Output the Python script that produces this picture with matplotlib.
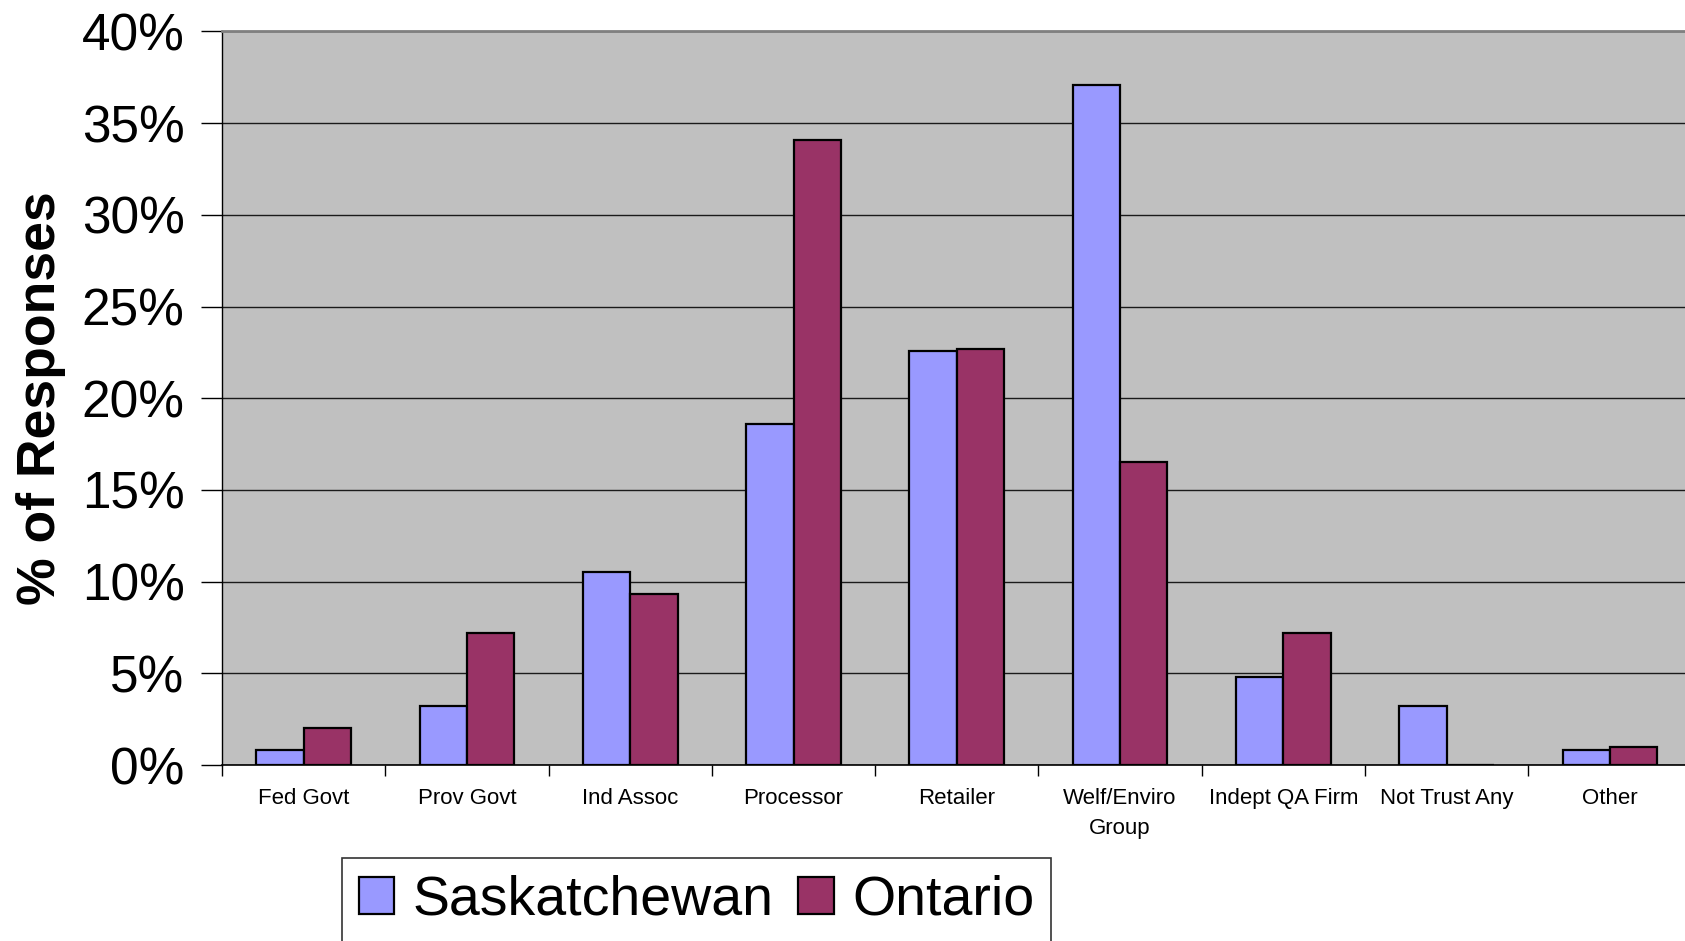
import matplotlib
matplotlib.use('Agg') # Рисуем без дисплея.
import matplotlib.pyplot as plt # График.
import numpy as np # Позиции столбцов.
from matplotlib.ticker import PercentFormatter, FixedLocator # Подписи в процентах.

# Данные опроса (% ответов).
categories = ['Fed Govt', 'Prov Govt', 'Ind Assoc', 'Processor', 'Retailer',
              'Welf/Enviro\nGroup', 'Indept QA Firm', 'Not Trust Any', 'Other']
saskatchewan = [0.8, 3.2, 10.5, 18.6, 22.6, 37.1, 4.8, 3.2, 0.8]
ontario = [2.0, 7.2, 9.3, 34.1, 22.7, 16.5, 7.2, 0.0, 1.0]
series_names = ['Saskatchewan', 'Ontario']
yticks = [0, 5, 10, 15, 20, 25, 30, 35, 40]

plt.rcParams['font.family'] = ['Liberation Sans', 'DejaVu Sans']

fig = plt.figure(figsize=(16.85, 9.41), dpi=100)
ax = fig.add_axes([0.1318, 0.187, 0.8682, 0.7796]) # Правая часть области обрезана краем.
ax.set_facecolor('#C0C0C0')

x = np.arange(len(categories))
w = 0.29 # Ширина одного столбца.
ax.bar(x - w / 2, saskatchewan, w, color='#9999FF', edgecolor='black', linewidth=1.6,
       label=series_names[0], zorder=3)
ax.bar(x + w / 2, ontario, w, color='#993366', edgecolor='black', linewidth=1.6,
       label=series_names[1], zorder=3)

# Оси.
ax.set_ylim(0, 40)
ax.set_xlim(-0.5, 8.46)
ax.set_yticks(yticks)
ax.yaxis.set_major_formatter(PercentFormatter(decimals=0))
ax.tick_params(axis='y', labelsize=37, length=15, width=1, pad=12, direction='out')
ax.yaxis.grid(True, color='#1a1a1a', linewidth=1, zorder=0)

# Деления между категориями, подписи по центру.
ax.xaxis.set_major_locator(FixedLocator(np.arange(-0.5, 8.0, 1.0)))
ax.xaxis.set_major_formatter(plt.NullFormatter())
ax.set_xticks(x, minor=True)
ax.set_xticklabels(categories, minor=True, fontsize=16, linespacing=1.55, va='top')
ax.tick_params(axis='x', which='major', length=8, width=1, direction='out')
ax.tick_params(axis='x', which='minor', length=0, pad=16.5)

ax.spines['right'].set_visible(False)
ax.spines['top'].set_color('#808080')
ax.spines['top'].set_linewidth(2)
ax.spines['left'].set_linewidth(1)
ax.spines['bottom'].set_linewidth(1.2)

fig.text(0.0245, 0.577, '% of Responses', rotation=90, ha='center', va='center',
         fontsize=38.5, fontweight='bold')

# Легенда снизу, нижний край уходит за границу рисунка.
leg = fig.legend(loc='upper left', bbox_to_anchor=(0.203, 0.088), ncol=2,
                 fontsize=40, frameon=True, fancybox=False, shadow=False,
                 handlelength=0.64, handleheight=0.64, handletextpad=0.33,
                 columnspacing=0.44, borderpad=0.3, borderaxespad=0)
leg.get_frame().set_edgecolor('black')
leg.get_frame().set_linewidth(1.2)

fig.savefig('out.png', dpi=100)
